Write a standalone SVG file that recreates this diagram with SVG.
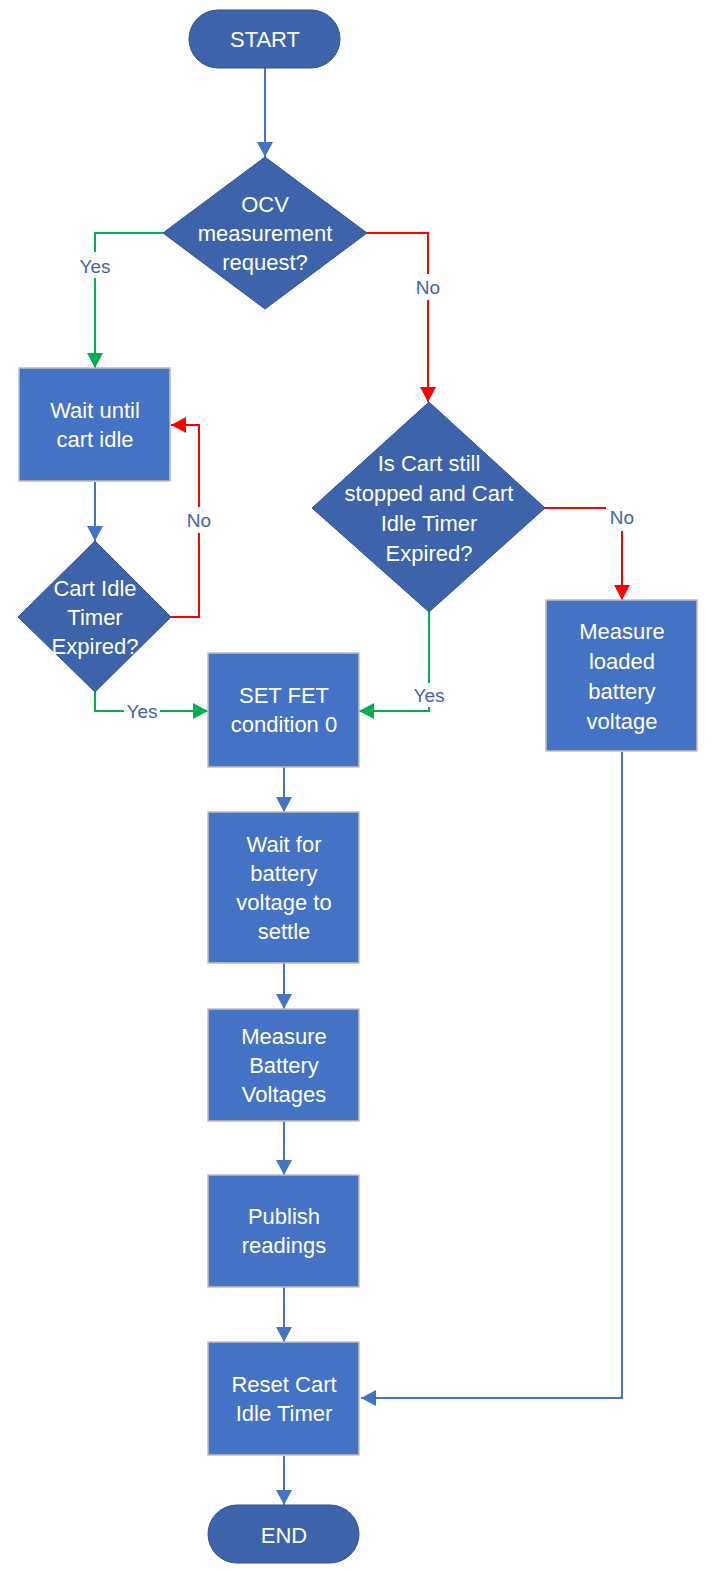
<svg xmlns="http://www.w3.org/2000/svg" width="719" height="1571" viewBox="0 0 719 1571">
<style>
.box{fill:#4472C4;stroke:#BFBFBF;stroke-width:1.5}
.dec{fill:#3D63AA;stroke:#2F528F;stroke-width:1}
.t{font-family:"Liberation Sans",Arial,sans-serif;font-size:22px;fill:#FFFFFF;text-anchor:middle}
.c{fill:none;stroke-width:2}
.cb{stroke:#4472C4}
.cg{stroke:#00B050}
.cr{stroke:#FF0000}
.lbl{font-family:"Liberation Sans",Arial,sans-serif;font-size:19px;fill:#4064AC;text-anchor:middle}
.lb{fill:#FFFFFF}
</style>
<defs>
<marker id="ab" markerUnits="userSpaceOnUse" markerWidth="16" markerHeight="16" refX="15" refY="8" orient="auto"><path d="M0,0 L15,8 L0,16 Z" fill="#4472C4"/></marker>
<marker id="ag" markerUnits="userSpaceOnUse" markerWidth="16" markerHeight="16" refX="15" refY="8" orient="auto"><path d="M0,0 L15,8 L0,16 Z" fill="#00B050"/></marker>
<marker id="ar" markerUnits="userSpaceOnUse" markerWidth="16" markerHeight="16" refX="15" refY="8" orient="auto"><path d="M0,0 L15,8 L0,16 Z" fill="#FF0000"/></marker>
</defs>
<g id="connectors">
<path class="c cb" d="M265,68 V157" marker-end="url(#ab)"/>
<path class="c cg" d="M163,233 H95 V368" marker-end="url(#ag)"/>
<path class="c cr" d="M367,233 H428 V402" marker-end="url(#ar)"/>
<path class="c cb" d="M95,482 V541" marker-end="url(#ab)"/>
<path class="c cr" d="M171,617 H199 V425 H171" marker-end="url(#ar)"/>
<path class="c cg" d="M95,692 V711 H208" marker-end="url(#ag)"/>
<path class="c cr" d="M545,508 H622 V600" marker-end="url(#ar)"/>
<path class="c cg" d="M429,612 V711 H359" marker-end="url(#ag)"/>
<path class="c cb" d="M284,767 V812" marker-end="url(#ab)"/>
<path class="c cb" d="M284,963 V1009" marker-end="url(#ab)"/>
<path class="c cb" d="M284,1121 V1175" marker-end="url(#ab)"/>
<path class="c cb" d="M284,1287 V1342" marker-end="url(#ab)"/>
<path class="c cb" d="M284,1456 V1505" marker-end="url(#ab)"/>
<path class="c cb" d="M622,752 V1398 H361" marker-end="url(#ab)"/>
</g>
<g id="labels">
<rect class="lb" x="77" y="252" width="36" height="26"/><text class="lbl" x="95" y="273">Yes</text>
<rect class="lb" x="412" y="274" width="32" height="26"/><text class="lbl" x="428" y="294">No</text>
<rect class="lb" x="183" y="507" width="32" height="26"/><text class="lbl" x="199" y="527">No</text>
<rect class="lb" x="124" y="700" width="36" height="22"/><text class="lbl" x="142" y="718">Yes</text>
<rect class="lb" x="411" y="683" width="36" height="24"/><text class="lbl" x="429" y="702">Yes</text>
<rect class="lb" x="606" y="505" width="32" height="26"/><text class="lbl" x="622" y="524">No</text>
</g>
<g id="start"><rect class="dec" x="189" y="10" width="151" height="58" rx="29"/><text class="t" x="265" y="47">START</text></g>
<g id="ocv"><path class="dec" d="M265,157 L367,233 L265,309 L163,233 Z"/><text class="t" x="265" y="212">OCV</text><text class="t" x="265" y="241">measurement</text><text class="t" x="265" y="270">request?</text></g>
<g id="wait-idle"><rect class="box" x="19" y="368" width="151" height="113"/><text class="t" x="95" y="418">Wait until</text><text class="t" x="95" y="447">cart idle</text></g>
<g id="idle-expired"><path class="dec" d="M95,541 L171,617 L95,692 L18,617 Z"/><text class="t" x="95" y="596">Cart Idle</text><text class="t" x="95" y="625">Timer</text><text class="t" x="95" y="654">Expired?</text></g>
<g id="cart-stopped"><path class="dec" d="M429,402 L545,508 L429,612 L312,508 Z"/><text class="t" x="429" y="471">Is Cart still</text><text class="t" x="429" y="501">stopped and Cart</text><text class="t" x="429" y="531">Idle Timer</text><text class="t" x="429" y="561">Expired?</text></g>
<g id="measure-loaded"><rect class="box" x="546" y="600" width="151" height="151"/><text class="t" x="622" y="639">Measure</text><text class="t" x="622" y="669">loaded</text><text class="t" x="622" y="699">battery</text><text class="t" x="622" y="729">voltage</text></g>
<g id="set-fet"><rect class="box" x="208" y="653" width="151" height="114"/><text class="t" x="284" y="703">SET FET</text><text class="t" x="284" y="732">condition 0</text></g>
<g id="wait-settle"><rect class="box" x="208" y="812" width="151" height="151"/><text class="t" x="284" y="852">Wait for</text><text class="t" x="284" y="881">battery</text><text class="t" x="284" y="910">voltage to</text><text class="t" x="284" y="939">settle</text></g>
<g id="measure-battery"><rect class="box" x="208" y="1009" width="151" height="112"/><text class="t" x="284" y="1044">Measure</text><text class="t" x="284" y="1073">Battery</text><text class="t" x="284" y="1102">Voltages</text></g>
<g id="publish"><rect class="box" x="208" y="1175" width="151" height="112"/><text class="t" x="284" y="1224">Publish</text><text class="t" x="284" y="1253">readings</text></g>
<g id="reset"><rect class="box" x="208" y="1342" width="151" height="113"/><text class="t" x="284" y="1392">Reset Cart</text><text class="t" x="284" y="1421">Idle Timer</text></g>
<g id="end"><rect class="dec" x="208" y="1505" width="151" height="58" rx="29"/><text class="t" x="284" y="1543">END</text></g>
</svg>
